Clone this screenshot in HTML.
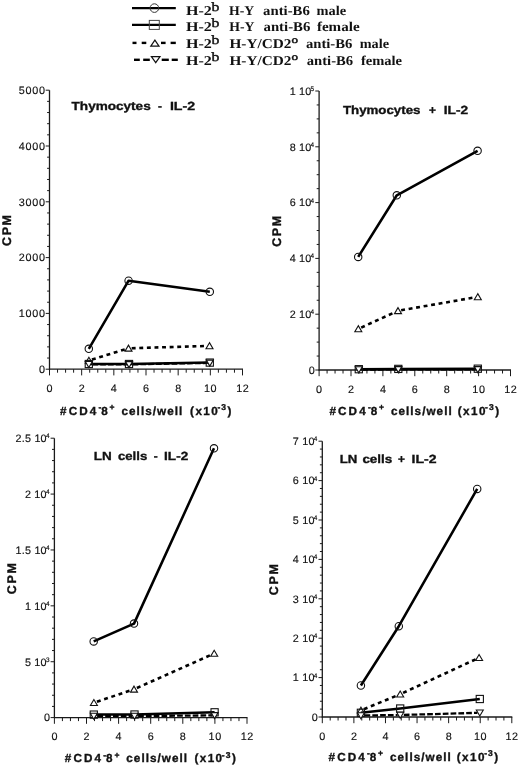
<!DOCTYPE html>
<html><head><meta charset="utf-8"><style>
html,body{margin:0;padding:0;background:#fff;}
svg{display:block;text-rendering:geometricPrecision;will-change:transform;}
text{fill:#111;stroke:#111;stroke-width:0.15px;}
text[font-weight=bold][font-family*=Sans]{stroke:#111;stroke-width:0.35px;}
text[font-family*=Serif]{stroke:none;}
</style></head><body>
<svg width="520" height="768" viewBox="0 0 520 768">
<line x1="49.50" y1="90.20" x2="49.50" y2="369.70" stroke="#1a1a1a" stroke-width="1.3" />
<line x1="49.00" y1="369.20" x2="243.00" y2="369.20" stroke="#1a1a1a" stroke-width="1.3" />
<line x1="49.50" y1="369.20" x2="49.50" y2="375.40" stroke="#1a1a1a" stroke-width="1.0" />
<line x1="57.54" y1="369.20" x2="57.54" y2="372.70" stroke="#1a1a1a" stroke-width="1.0" />
<line x1="65.58" y1="369.20" x2="65.58" y2="372.70" stroke="#1a1a1a" stroke-width="1.0" />
<line x1="73.62" y1="369.20" x2="73.62" y2="372.70" stroke="#1a1a1a" stroke-width="1.0" />
<line x1="81.67" y1="369.20" x2="81.67" y2="375.40" stroke="#1a1a1a" stroke-width="1.0" />
<line x1="89.71" y1="369.20" x2="89.71" y2="372.70" stroke="#1a1a1a" stroke-width="1.0" />
<line x1="97.75" y1="369.20" x2="97.75" y2="372.70" stroke="#1a1a1a" stroke-width="1.0" />
<line x1="105.79" y1="369.20" x2="105.79" y2="372.70" stroke="#1a1a1a" stroke-width="1.0" />
<line x1="113.83" y1="369.20" x2="113.83" y2="375.40" stroke="#1a1a1a" stroke-width="1.0" />
<line x1="121.88" y1="369.20" x2="121.88" y2="372.70" stroke="#1a1a1a" stroke-width="1.0" />
<line x1="129.92" y1="369.20" x2="129.92" y2="372.70" stroke="#1a1a1a" stroke-width="1.0" />
<line x1="137.96" y1="369.20" x2="137.96" y2="372.70" stroke="#1a1a1a" stroke-width="1.0" />
<line x1="146.00" y1="369.20" x2="146.00" y2="375.40" stroke="#1a1a1a" stroke-width="1.0" />
<line x1="154.04" y1="369.20" x2="154.04" y2="372.70" stroke="#1a1a1a" stroke-width="1.0" />
<line x1="162.08" y1="369.20" x2="162.08" y2="372.70" stroke="#1a1a1a" stroke-width="1.0" />
<line x1="170.12" y1="369.20" x2="170.12" y2="372.70" stroke="#1a1a1a" stroke-width="1.0" />
<line x1="178.17" y1="369.20" x2="178.17" y2="375.40" stroke="#1a1a1a" stroke-width="1.0" />
<line x1="186.21" y1="369.20" x2="186.21" y2="372.70" stroke="#1a1a1a" stroke-width="1.0" />
<line x1="194.25" y1="369.20" x2="194.25" y2="372.70" stroke="#1a1a1a" stroke-width="1.0" />
<line x1="202.29" y1="369.20" x2="202.29" y2="372.70" stroke="#1a1a1a" stroke-width="1.0" />
<line x1="210.33" y1="369.20" x2="210.33" y2="375.40" stroke="#1a1a1a" stroke-width="1.0" />
<line x1="218.38" y1="369.20" x2="218.38" y2="372.70" stroke="#1a1a1a" stroke-width="1.0" />
<line x1="226.42" y1="369.20" x2="226.42" y2="372.70" stroke="#1a1a1a" stroke-width="1.0" />
<line x1="234.46" y1="369.20" x2="234.46" y2="372.70" stroke="#1a1a1a" stroke-width="1.0" />
<line x1="242.50" y1="369.20" x2="242.50" y2="375.40" stroke="#1a1a1a" stroke-width="1.0" />
<text x="49.80" y="392.00" font-family='"Liberation Sans", sans-serif' font-size="10.8" font-weight="normal" text-anchor="middle" letter-spacing="0.6">0</text>
<text x="81.97" y="392.00" font-family='"Liberation Sans", sans-serif' font-size="10.8" font-weight="normal" text-anchor="middle" letter-spacing="0.6">2</text>
<text x="114.13" y="392.00" font-family='"Liberation Sans", sans-serif' font-size="10.8" font-weight="normal" text-anchor="middle" letter-spacing="0.6">4</text>
<text x="146.30" y="392.00" font-family='"Liberation Sans", sans-serif' font-size="10.8" font-weight="normal" text-anchor="middle" letter-spacing="0.6">6</text>
<text x="178.47" y="392.00" font-family='"Liberation Sans", sans-serif' font-size="10.8" font-weight="normal" text-anchor="middle" letter-spacing="0.6">8</text>
<text x="210.63" y="392.00" font-family='"Liberation Sans", sans-serif' font-size="10.8" font-weight="normal" text-anchor="middle" letter-spacing="0.6">10</text>
<text x="242.80" y="392.00" font-family='"Liberation Sans", sans-serif' font-size="10.8" font-weight="normal" text-anchor="middle" letter-spacing="0.6">12</text>
<line x1="45.70" y1="369.20" x2="49.50" y2="369.20" stroke="#1a1a1a" stroke-width="1.0" />
<line x1="47.10" y1="358.04" x2="49.50" y2="358.04" stroke="#1a1a1a" stroke-width="1.0" />
<line x1="47.10" y1="346.88" x2="49.50" y2="346.88" stroke="#1a1a1a" stroke-width="1.0" />
<line x1="47.10" y1="335.72" x2="49.50" y2="335.72" stroke="#1a1a1a" stroke-width="1.0" />
<line x1="47.10" y1="324.56" x2="49.50" y2="324.56" stroke="#1a1a1a" stroke-width="1.0" />
<line x1="45.70" y1="313.40" x2="49.50" y2="313.40" stroke="#1a1a1a" stroke-width="1.0" />
<line x1="47.10" y1="302.24" x2="49.50" y2="302.24" stroke="#1a1a1a" stroke-width="1.0" />
<line x1="47.10" y1="291.08" x2="49.50" y2="291.08" stroke="#1a1a1a" stroke-width="1.0" />
<line x1="47.10" y1="279.92" x2="49.50" y2="279.92" stroke="#1a1a1a" stroke-width="1.0" />
<line x1="47.10" y1="268.76" x2="49.50" y2="268.76" stroke="#1a1a1a" stroke-width="1.0" />
<line x1="45.70" y1="257.60" x2="49.50" y2="257.60" stroke="#1a1a1a" stroke-width="1.0" />
<line x1="47.10" y1="246.44" x2="49.50" y2="246.44" stroke="#1a1a1a" stroke-width="1.0" />
<line x1="47.10" y1="235.28" x2="49.50" y2="235.28" stroke="#1a1a1a" stroke-width="1.0" />
<line x1="47.10" y1="224.12" x2="49.50" y2="224.12" stroke="#1a1a1a" stroke-width="1.0" />
<line x1="47.10" y1="212.96" x2="49.50" y2="212.96" stroke="#1a1a1a" stroke-width="1.0" />
<line x1="45.70" y1="201.80" x2="49.50" y2="201.80" stroke="#1a1a1a" stroke-width="1.0" />
<line x1="47.10" y1="190.64" x2="49.50" y2="190.64" stroke="#1a1a1a" stroke-width="1.0" />
<line x1="47.10" y1="179.48" x2="49.50" y2="179.48" stroke="#1a1a1a" stroke-width="1.0" />
<line x1="47.10" y1="168.32" x2="49.50" y2="168.32" stroke="#1a1a1a" stroke-width="1.0" />
<line x1="47.10" y1="157.16" x2="49.50" y2="157.16" stroke="#1a1a1a" stroke-width="1.0" />
<line x1="45.70" y1="146.00" x2="49.50" y2="146.00" stroke="#1a1a1a" stroke-width="1.0" />
<line x1="47.10" y1="134.84" x2="49.50" y2="134.84" stroke="#1a1a1a" stroke-width="1.0" />
<line x1="47.10" y1="123.68" x2="49.50" y2="123.68" stroke="#1a1a1a" stroke-width="1.0" />
<line x1="47.10" y1="112.52" x2="49.50" y2="112.52" stroke="#1a1a1a" stroke-width="1.0" />
<line x1="47.10" y1="101.36" x2="49.50" y2="101.36" stroke="#1a1a1a" stroke-width="1.0" />
<line x1="45.70" y1="90.20" x2="49.50" y2="90.20" stroke="#1a1a1a" stroke-width="1.0" />
<text x="45.80" y="372.90" font-family='"Liberation Sans", sans-serif' font-size="10.8" font-weight="normal" text-anchor="end" letter-spacing="0.75">0</text>
<text x="45.80" y="317.10" font-family='"Liberation Sans", sans-serif' font-size="10.8" font-weight="normal" text-anchor="end" letter-spacing="0.75">1000</text>
<text x="45.80" y="261.30" font-family='"Liberation Sans", sans-serif' font-size="10.8" font-weight="normal" text-anchor="end" letter-spacing="0.75">2000</text>
<text x="45.80" y="205.50" font-family='"Liberation Sans", sans-serif' font-size="10.8" font-weight="normal" text-anchor="end" letter-spacing="0.75">3000</text>
<text x="45.80" y="149.70" font-family='"Liberation Sans", sans-serif' font-size="10.8" font-weight="normal" text-anchor="end" letter-spacing="0.75">4000</text>
<text x="45.80" y="93.90" font-family='"Liberation Sans", sans-serif' font-size="10.8" font-weight="normal" text-anchor="end" letter-spacing="0.75">5000</text>
<text transform="translate(10.80,229.70) rotate(-90)" font-family='"Liberation Sans", sans-serif' font-size="12.5" font-weight="bold" text-anchor="middle" letter-spacing="1.6">CPM</text>
<line x1="319.10" y1="91.00" x2="319.10" y2="370.50" stroke="#1a1a1a" stroke-width="1.3" />
<line x1="318.60" y1="370.00" x2="511.00" y2="370.00" stroke="#1a1a1a" stroke-width="1.3" />
<line x1="319.10" y1="370.00" x2="319.10" y2="376.20" stroke="#1a1a1a" stroke-width="1.0" />
<line x1="327.08" y1="370.00" x2="327.08" y2="373.50" stroke="#1a1a1a" stroke-width="1.0" />
<line x1="335.05" y1="370.00" x2="335.05" y2="373.50" stroke="#1a1a1a" stroke-width="1.0" />
<line x1="343.03" y1="370.00" x2="343.03" y2="373.50" stroke="#1a1a1a" stroke-width="1.0" />
<line x1="351.00" y1="370.00" x2="351.00" y2="376.20" stroke="#1a1a1a" stroke-width="1.0" />
<line x1="358.98" y1="370.00" x2="358.98" y2="373.50" stroke="#1a1a1a" stroke-width="1.0" />
<line x1="366.95" y1="370.00" x2="366.95" y2="373.50" stroke="#1a1a1a" stroke-width="1.0" />
<line x1="374.93" y1="370.00" x2="374.93" y2="373.50" stroke="#1a1a1a" stroke-width="1.0" />
<line x1="382.90" y1="370.00" x2="382.90" y2="376.20" stroke="#1a1a1a" stroke-width="1.0" />
<line x1="390.88" y1="370.00" x2="390.88" y2="373.50" stroke="#1a1a1a" stroke-width="1.0" />
<line x1="398.85" y1="370.00" x2="398.85" y2="373.50" stroke="#1a1a1a" stroke-width="1.0" />
<line x1="406.82" y1="370.00" x2="406.82" y2="373.50" stroke="#1a1a1a" stroke-width="1.0" />
<line x1="414.80" y1="370.00" x2="414.80" y2="376.20" stroke="#1a1a1a" stroke-width="1.0" />
<line x1="422.77" y1="370.00" x2="422.77" y2="373.50" stroke="#1a1a1a" stroke-width="1.0" />
<line x1="430.75" y1="370.00" x2="430.75" y2="373.50" stroke="#1a1a1a" stroke-width="1.0" />
<line x1="438.73" y1="370.00" x2="438.73" y2="373.50" stroke="#1a1a1a" stroke-width="1.0" />
<line x1="446.70" y1="370.00" x2="446.70" y2="376.20" stroke="#1a1a1a" stroke-width="1.0" />
<line x1="454.68" y1="370.00" x2="454.68" y2="373.50" stroke="#1a1a1a" stroke-width="1.0" />
<line x1="462.65" y1="370.00" x2="462.65" y2="373.50" stroke="#1a1a1a" stroke-width="1.0" />
<line x1="470.62" y1="370.00" x2="470.62" y2="373.50" stroke="#1a1a1a" stroke-width="1.0" />
<line x1="478.60" y1="370.00" x2="478.60" y2="376.20" stroke="#1a1a1a" stroke-width="1.0" />
<line x1="486.57" y1="370.00" x2="486.57" y2="373.50" stroke="#1a1a1a" stroke-width="1.0" />
<line x1="494.55" y1="370.00" x2="494.55" y2="373.50" stroke="#1a1a1a" stroke-width="1.0" />
<line x1="502.52" y1="370.00" x2="502.52" y2="373.50" stroke="#1a1a1a" stroke-width="1.0" />
<line x1="510.50" y1="370.00" x2="510.50" y2="376.20" stroke="#1a1a1a" stroke-width="1.0" />
<text x="319.40" y="392.80" font-family='"Liberation Sans", sans-serif' font-size="10.8" font-weight="normal" text-anchor="middle" letter-spacing="0.6">0</text>
<text x="351.30" y="392.80" font-family='"Liberation Sans", sans-serif' font-size="10.8" font-weight="normal" text-anchor="middle" letter-spacing="0.6">2</text>
<text x="383.20" y="392.80" font-family='"Liberation Sans", sans-serif' font-size="10.8" font-weight="normal" text-anchor="middle" letter-spacing="0.6">4</text>
<text x="415.10" y="392.80" font-family='"Liberation Sans", sans-serif' font-size="10.8" font-weight="normal" text-anchor="middle" letter-spacing="0.6">6</text>
<text x="447.00" y="392.80" font-family='"Liberation Sans", sans-serif' font-size="10.8" font-weight="normal" text-anchor="middle" letter-spacing="0.6">8</text>
<text x="478.90" y="392.80" font-family='"Liberation Sans", sans-serif' font-size="10.8" font-weight="normal" text-anchor="middle" letter-spacing="0.6">10</text>
<text x="510.80" y="392.80" font-family='"Liberation Sans", sans-serif' font-size="10.8" font-weight="normal" text-anchor="middle" letter-spacing="0.6">12</text>
<line x1="315.30" y1="370.00" x2="319.10" y2="370.00" stroke="#1a1a1a" stroke-width="1.0" />
<line x1="316.70" y1="356.05" x2="319.10" y2="356.05" stroke="#1a1a1a" stroke-width="1.0" />
<line x1="316.70" y1="342.10" x2="319.10" y2="342.10" stroke="#1a1a1a" stroke-width="1.0" />
<line x1="316.70" y1="328.15" x2="319.10" y2="328.15" stroke="#1a1a1a" stroke-width="1.0" />
<line x1="315.30" y1="314.20" x2="319.10" y2="314.20" stroke="#1a1a1a" stroke-width="1.0" />
<line x1="316.70" y1="300.25" x2="319.10" y2="300.25" stroke="#1a1a1a" stroke-width="1.0" />
<line x1="316.70" y1="286.30" x2="319.10" y2="286.30" stroke="#1a1a1a" stroke-width="1.0" />
<line x1="316.70" y1="272.35" x2="319.10" y2="272.35" stroke="#1a1a1a" stroke-width="1.0" />
<line x1="315.30" y1="258.40" x2="319.10" y2="258.40" stroke="#1a1a1a" stroke-width="1.0" />
<line x1="316.70" y1="244.45" x2="319.10" y2="244.45" stroke="#1a1a1a" stroke-width="1.0" />
<line x1="316.70" y1="230.50" x2="319.10" y2="230.50" stroke="#1a1a1a" stroke-width="1.0" />
<line x1="316.70" y1="216.55" x2="319.10" y2="216.55" stroke="#1a1a1a" stroke-width="1.0" />
<line x1="315.30" y1="202.60" x2="319.10" y2="202.60" stroke="#1a1a1a" stroke-width="1.0" />
<line x1="316.70" y1="188.65" x2="319.10" y2="188.65" stroke="#1a1a1a" stroke-width="1.0" />
<line x1="316.70" y1="174.70" x2="319.10" y2="174.70" stroke="#1a1a1a" stroke-width="1.0" />
<line x1="316.70" y1="160.75" x2="319.10" y2="160.75" stroke="#1a1a1a" stroke-width="1.0" />
<line x1="315.30" y1="146.80" x2="319.10" y2="146.80" stroke="#1a1a1a" stroke-width="1.0" />
<line x1="316.70" y1="132.85" x2="319.10" y2="132.85" stroke="#1a1a1a" stroke-width="1.0" />
<line x1="316.70" y1="118.90" x2="319.10" y2="118.90" stroke="#1a1a1a" stroke-width="1.0" />
<line x1="316.70" y1="104.95" x2="319.10" y2="104.95" stroke="#1a1a1a" stroke-width="1.0" />
<line x1="315.30" y1="91.00" x2="319.10" y2="91.00" stroke="#1a1a1a" stroke-width="1.0" />
<text x="315.40" y="373.70" font-family='"Liberation Sans", sans-serif' font-size="10.8" font-weight="normal" text-anchor="end" letter-spacing="0.75">0</text>
<text x="311.50" y="318.00" font-family='"Liberation Sans", sans-serif' font-size="10.8" text-anchor="end" letter-spacing="0.2">2 10</text>
<text x="310.60" y="314.10" font-family='"Liberation Sans", sans-serif' font-size="6.4">4</text>
<text x="311.50" y="262.20" font-family='"Liberation Sans", sans-serif' font-size="10.8" text-anchor="end" letter-spacing="0.2">4 10</text>
<text x="310.60" y="258.30" font-family='"Liberation Sans", sans-serif' font-size="6.4">4</text>
<text x="311.50" y="206.40" font-family='"Liberation Sans", sans-serif' font-size="10.8" text-anchor="end" letter-spacing="0.2">6 10</text>
<text x="310.60" y="202.50" font-family='"Liberation Sans", sans-serif' font-size="6.4">4</text>
<text x="311.50" y="150.60" font-family='"Liberation Sans", sans-serif' font-size="10.8" text-anchor="end" letter-spacing="0.2">8 10</text>
<text x="310.60" y="146.70" font-family='"Liberation Sans", sans-serif' font-size="6.4">4</text>
<text x="311.50" y="94.80" font-family='"Liberation Sans", sans-serif' font-size="10.8" text-anchor="end" letter-spacing="0.2">1 10</text>
<text x="310.60" y="90.90" font-family='"Liberation Sans", sans-serif' font-size="6.4">5</text>
<text transform="translate(280.50,230.50) rotate(-90)" font-family='"Liberation Sans", sans-serif' font-size="12.5" font-weight="bold" text-anchor="middle" letter-spacing="1.6">CPM</text>
<line x1="54.40" y1="438.20" x2="54.40" y2="718.10" stroke="#1a1a1a" stroke-width="1.3" />
<line x1="53.90" y1="717.60" x2="247.50" y2="717.60" stroke="#1a1a1a" stroke-width="1.3" />
<line x1="54.40" y1="717.60" x2="54.40" y2="723.80" stroke="#1a1a1a" stroke-width="1.0" />
<line x1="62.42" y1="717.60" x2="62.42" y2="721.10" stroke="#1a1a1a" stroke-width="1.0" />
<line x1="70.45" y1="717.60" x2="70.45" y2="721.10" stroke="#1a1a1a" stroke-width="1.0" />
<line x1="78.47" y1="717.60" x2="78.47" y2="721.10" stroke="#1a1a1a" stroke-width="1.0" />
<line x1="86.50" y1="717.60" x2="86.50" y2="723.80" stroke="#1a1a1a" stroke-width="1.0" />
<line x1="94.53" y1="717.60" x2="94.53" y2="721.10" stroke="#1a1a1a" stroke-width="1.0" />
<line x1="102.55" y1="717.60" x2="102.55" y2="721.10" stroke="#1a1a1a" stroke-width="1.0" />
<line x1="110.58" y1="717.60" x2="110.58" y2="721.10" stroke="#1a1a1a" stroke-width="1.0" />
<line x1="118.60" y1="717.60" x2="118.60" y2="723.80" stroke="#1a1a1a" stroke-width="1.0" />
<line x1="126.62" y1="717.60" x2="126.62" y2="721.10" stroke="#1a1a1a" stroke-width="1.0" />
<line x1="134.65" y1="717.60" x2="134.65" y2="721.10" stroke="#1a1a1a" stroke-width="1.0" />
<line x1="142.68" y1="717.60" x2="142.68" y2="721.10" stroke="#1a1a1a" stroke-width="1.0" />
<line x1="150.70" y1="717.60" x2="150.70" y2="723.80" stroke="#1a1a1a" stroke-width="1.0" />
<line x1="158.72" y1="717.60" x2="158.72" y2="721.10" stroke="#1a1a1a" stroke-width="1.0" />
<line x1="166.75" y1="717.60" x2="166.75" y2="721.10" stroke="#1a1a1a" stroke-width="1.0" />
<line x1="174.78" y1="717.60" x2="174.78" y2="721.10" stroke="#1a1a1a" stroke-width="1.0" />
<line x1="182.80" y1="717.60" x2="182.80" y2="723.80" stroke="#1a1a1a" stroke-width="1.0" />
<line x1="190.83" y1="717.60" x2="190.83" y2="721.10" stroke="#1a1a1a" stroke-width="1.0" />
<line x1="198.85" y1="717.60" x2="198.85" y2="721.10" stroke="#1a1a1a" stroke-width="1.0" />
<line x1="206.88" y1="717.60" x2="206.88" y2="721.10" stroke="#1a1a1a" stroke-width="1.0" />
<line x1="214.90" y1="717.60" x2="214.90" y2="723.80" stroke="#1a1a1a" stroke-width="1.0" />
<line x1="222.93" y1="717.60" x2="222.93" y2="721.10" stroke="#1a1a1a" stroke-width="1.0" />
<line x1="230.95" y1="717.60" x2="230.95" y2="721.10" stroke="#1a1a1a" stroke-width="1.0" />
<line x1="238.98" y1="717.60" x2="238.98" y2="721.10" stroke="#1a1a1a" stroke-width="1.0" />
<line x1="247.00" y1="717.60" x2="247.00" y2="723.80" stroke="#1a1a1a" stroke-width="1.0" />
<text x="54.70" y="740.40" font-family='"Liberation Sans", sans-serif' font-size="10.8" font-weight="normal" text-anchor="middle" letter-spacing="0.6">0</text>
<text x="86.80" y="740.40" font-family='"Liberation Sans", sans-serif' font-size="10.8" font-weight="normal" text-anchor="middle" letter-spacing="0.6">2</text>
<text x="118.90" y="740.40" font-family='"Liberation Sans", sans-serif' font-size="10.8" font-weight="normal" text-anchor="middle" letter-spacing="0.6">4</text>
<text x="151.00" y="740.40" font-family='"Liberation Sans", sans-serif' font-size="10.8" font-weight="normal" text-anchor="middle" letter-spacing="0.6">6</text>
<text x="183.10" y="740.40" font-family='"Liberation Sans", sans-serif' font-size="10.8" font-weight="normal" text-anchor="middle" letter-spacing="0.6">8</text>
<text x="215.20" y="740.40" font-family='"Liberation Sans", sans-serif' font-size="10.8" font-weight="normal" text-anchor="middle" letter-spacing="0.6">10</text>
<text x="247.30" y="740.40" font-family='"Liberation Sans", sans-serif' font-size="10.8" font-weight="normal" text-anchor="middle" letter-spacing="0.6">12</text>
<line x1="50.60" y1="717.60" x2="54.40" y2="717.60" stroke="#1a1a1a" stroke-width="1.0" />
<line x1="52.00" y1="706.42" x2="54.40" y2="706.42" stroke="#1a1a1a" stroke-width="1.0" />
<line x1="52.00" y1="695.25" x2="54.40" y2="695.25" stroke="#1a1a1a" stroke-width="1.0" />
<line x1="52.00" y1="684.07" x2="54.40" y2="684.07" stroke="#1a1a1a" stroke-width="1.0" />
<line x1="52.00" y1="672.90" x2="54.40" y2="672.90" stroke="#1a1a1a" stroke-width="1.0" />
<line x1="50.60" y1="661.72" x2="54.40" y2="661.72" stroke="#1a1a1a" stroke-width="1.0" />
<line x1="52.00" y1="650.54" x2="54.40" y2="650.54" stroke="#1a1a1a" stroke-width="1.0" />
<line x1="52.00" y1="639.37" x2="54.40" y2="639.37" stroke="#1a1a1a" stroke-width="1.0" />
<line x1="52.00" y1="628.19" x2="54.40" y2="628.19" stroke="#1a1a1a" stroke-width="1.0" />
<line x1="52.00" y1="617.02" x2="54.40" y2="617.02" stroke="#1a1a1a" stroke-width="1.0" />
<line x1="50.60" y1="605.84" x2="54.40" y2="605.84" stroke="#1a1a1a" stroke-width="1.0" />
<line x1="52.00" y1="594.66" x2="54.40" y2="594.66" stroke="#1a1a1a" stroke-width="1.0" />
<line x1="52.00" y1="583.49" x2="54.40" y2="583.49" stroke="#1a1a1a" stroke-width="1.0" />
<line x1="52.00" y1="572.31" x2="54.40" y2="572.31" stroke="#1a1a1a" stroke-width="1.0" />
<line x1="52.00" y1="561.14" x2="54.40" y2="561.14" stroke="#1a1a1a" stroke-width="1.0" />
<line x1="50.60" y1="549.96" x2="54.40" y2="549.96" stroke="#1a1a1a" stroke-width="1.0" />
<line x1="52.00" y1="538.78" x2="54.40" y2="538.78" stroke="#1a1a1a" stroke-width="1.0" />
<line x1="52.00" y1="527.61" x2="54.40" y2="527.61" stroke="#1a1a1a" stroke-width="1.0" />
<line x1="52.00" y1="516.43" x2="54.40" y2="516.43" stroke="#1a1a1a" stroke-width="1.0" />
<line x1="52.00" y1="505.26" x2="54.40" y2="505.26" stroke="#1a1a1a" stroke-width="1.0" />
<line x1="50.60" y1="494.08" x2="54.40" y2="494.08" stroke="#1a1a1a" stroke-width="1.0" />
<line x1="52.00" y1="482.90" x2="54.40" y2="482.90" stroke="#1a1a1a" stroke-width="1.0" />
<line x1="52.00" y1="471.73" x2="54.40" y2="471.73" stroke="#1a1a1a" stroke-width="1.0" />
<line x1="52.00" y1="460.55" x2="54.40" y2="460.55" stroke="#1a1a1a" stroke-width="1.0" />
<line x1="52.00" y1="449.38" x2="54.40" y2="449.38" stroke="#1a1a1a" stroke-width="1.0" />
<line x1="50.60" y1="438.20" x2="54.40" y2="438.20" stroke="#1a1a1a" stroke-width="1.0" />
<text x="50.70" y="721.30" font-family='"Liberation Sans", sans-serif' font-size="10.8" font-weight="normal" text-anchor="end" letter-spacing="0.75">0</text>
<text x="46.80" y="665.52" font-family='"Liberation Sans", sans-serif' font-size="10.8" text-anchor="end" letter-spacing="0.2">5 10</text>
<text x="45.90" y="661.62" font-family='"Liberation Sans", sans-serif' font-size="6.4">3</text>
<text x="46.80" y="609.64" font-family='"Liberation Sans", sans-serif' font-size="10.8" text-anchor="end" letter-spacing="0.2">1 10</text>
<text x="45.90" y="605.74" font-family='"Liberation Sans", sans-serif' font-size="6.4">4</text>
<text x="46.80" y="553.76" font-family='"Liberation Sans", sans-serif' font-size="10.8" text-anchor="end" letter-spacing="0.2">1.5 10</text>
<text x="45.90" y="549.86" font-family='"Liberation Sans", sans-serif' font-size="6.4">4</text>
<text x="46.80" y="497.88" font-family='"Liberation Sans", sans-serif' font-size="10.8" text-anchor="end" letter-spacing="0.2">2 10</text>
<text x="45.90" y="493.98" font-family='"Liberation Sans", sans-serif' font-size="6.4">4</text>
<text x="46.80" y="442.00" font-family='"Liberation Sans", sans-serif' font-size="10.8" text-anchor="end" letter-spacing="0.2">2.5 10</text>
<text x="45.90" y="438.10" font-family='"Liberation Sans", sans-serif' font-size="6.4">4</text>
<text transform="translate(15.80,577.90) rotate(-90)" font-family='"Liberation Sans", sans-serif' font-size="12.5" font-weight="bold" text-anchor="middle" letter-spacing="1.6">CPM</text>
<line x1="322.30" y1="441.20" x2="322.30" y2="717.50" stroke="#1a1a1a" stroke-width="1.3" />
<line x1="321.80" y1="717.00" x2="512.30" y2="717.00" stroke="#1a1a1a" stroke-width="1.3" />
<line x1="322.30" y1="717.00" x2="322.30" y2="723.20" stroke="#1a1a1a" stroke-width="1.0" />
<line x1="330.20" y1="717.00" x2="330.20" y2="720.50" stroke="#1a1a1a" stroke-width="1.0" />
<line x1="338.09" y1="717.00" x2="338.09" y2="720.50" stroke="#1a1a1a" stroke-width="1.0" />
<line x1="345.99" y1="717.00" x2="345.99" y2="720.50" stroke="#1a1a1a" stroke-width="1.0" />
<line x1="353.88" y1="717.00" x2="353.88" y2="723.20" stroke="#1a1a1a" stroke-width="1.0" />
<line x1="361.78" y1="717.00" x2="361.78" y2="720.50" stroke="#1a1a1a" stroke-width="1.0" />
<line x1="369.68" y1="717.00" x2="369.68" y2="720.50" stroke="#1a1a1a" stroke-width="1.0" />
<line x1="377.57" y1="717.00" x2="377.57" y2="720.50" stroke="#1a1a1a" stroke-width="1.0" />
<line x1="385.47" y1="717.00" x2="385.47" y2="723.20" stroke="#1a1a1a" stroke-width="1.0" />
<line x1="393.36" y1="717.00" x2="393.36" y2="720.50" stroke="#1a1a1a" stroke-width="1.0" />
<line x1="401.26" y1="717.00" x2="401.26" y2="720.50" stroke="#1a1a1a" stroke-width="1.0" />
<line x1="409.15" y1="717.00" x2="409.15" y2="720.50" stroke="#1a1a1a" stroke-width="1.0" />
<line x1="417.05" y1="717.00" x2="417.05" y2="723.20" stroke="#1a1a1a" stroke-width="1.0" />
<line x1="424.95" y1="717.00" x2="424.95" y2="720.50" stroke="#1a1a1a" stroke-width="1.0" />
<line x1="432.84" y1="717.00" x2="432.84" y2="720.50" stroke="#1a1a1a" stroke-width="1.0" />
<line x1="440.74" y1="717.00" x2="440.74" y2="720.50" stroke="#1a1a1a" stroke-width="1.0" />
<line x1="448.63" y1="717.00" x2="448.63" y2="723.20" stroke="#1a1a1a" stroke-width="1.0" />
<line x1="456.53" y1="717.00" x2="456.53" y2="720.50" stroke="#1a1a1a" stroke-width="1.0" />
<line x1="464.43" y1="717.00" x2="464.43" y2="720.50" stroke="#1a1a1a" stroke-width="1.0" />
<line x1="472.32" y1="717.00" x2="472.32" y2="720.50" stroke="#1a1a1a" stroke-width="1.0" />
<line x1="480.22" y1="717.00" x2="480.22" y2="723.20" stroke="#1a1a1a" stroke-width="1.0" />
<line x1="488.11" y1="717.00" x2="488.11" y2="720.50" stroke="#1a1a1a" stroke-width="1.0" />
<line x1="496.01" y1="717.00" x2="496.01" y2="720.50" stroke="#1a1a1a" stroke-width="1.0" />
<line x1="503.90" y1="717.00" x2="503.90" y2="720.50" stroke="#1a1a1a" stroke-width="1.0" />
<line x1="511.80" y1="717.00" x2="511.80" y2="723.20" stroke="#1a1a1a" stroke-width="1.0" />
<text x="322.60" y="739.80" font-family='"Liberation Sans", sans-serif' font-size="10.8" font-weight="normal" text-anchor="middle" letter-spacing="0.6">0</text>
<text x="354.18" y="739.80" font-family='"Liberation Sans", sans-serif' font-size="10.8" font-weight="normal" text-anchor="middle" letter-spacing="0.6">2</text>
<text x="385.77" y="739.80" font-family='"Liberation Sans", sans-serif' font-size="10.8" font-weight="normal" text-anchor="middle" letter-spacing="0.6">4</text>
<text x="417.35" y="739.80" font-family='"Liberation Sans", sans-serif' font-size="10.8" font-weight="normal" text-anchor="middle" letter-spacing="0.6">6</text>
<text x="448.93" y="739.80" font-family='"Liberation Sans", sans-serif' font-size="10.8" font-weight="normal" text-anchor="middle" letter-spacing="0.6">8</text>
<text x="480.52" y="739.80" font-family='"Liberation Sans", sans-serif' font-size="10.8" font-weight="normal" text-anchor="middle" letter-spacing="0.6">10</text>
<text x="512.10" y="739.80" font-family='"Liberation Sans", sans-serif' font-size="10.8" font-weight="normal" text-anchor="middle" letter-spacing="0.6">12</text>
<line x1="318.50" y1="717.00" x2="322.30" y2="717.00" stroke="#1a1a1a" stroke-width="1.0" />
<line x1="319.90" y1="709.12" x2="322.30" y2="709.12" stroke="#1a1a1a" stroke-width="1.0" />
<line x1="319.90" y1="701.24" x2="322.30" y2="701.24" stroke="#1a1a1a" stroke-width="1.0" />
<line x1="319.90" y1="693.36" x2="322.30" y2="693.36" stroke="#1a1a1a" stroke-width="1.0" />
<line x1="319.90" y1="685.48" x2="322.30" y2="685.48" stroke="#1a1a1a" stroke-width="1.0" />
<line x1="318.50" y1="677.60" x2="322.30" y2="677.60" stroke="#1a1a1a" stroke-width="1.0" />
<line x1="319.90" y1="669.72" x2="322.30" y2="669.72" stroke="#1a1a1a" stroke-width="1.0" />
<line x1="319.90" y1="661.84" x2="322.30" y2="661.84" stroke="#1a1a1a" stroke-width="1.0" />
<line x1="319.90" y1="653.96" x2="322.30" y2="653.96" stroke="#1a1a1a" stroke-width="1.0" />
<line x1="319.90" y1="646.08" x2="322.30" y2="646.08" stroke="#1a1a1a" stroke-width="1.0" />
<line x1="318.50" y1="638.20" x2="322.30" y2="638.20" stroke="#1a1a1a" stroke-width="1.0" />
<line x1="319.90" y1="630.32" x2="322.30" y2="630.32" stroke="#1a1a1a" stroke-width="1.0" />
<line x1="319.90" y1="622.44" x2="322.30" y2="622.44" stroke="#1a1a1a" stroke-width="1.0" />
<line x1="319.90" y1="614.56" x2="322.30" y2="614.56" stroke="#1a1a1a" stroke-width="1.0" />
<line x1="319.90" y1="606.68" x2="322.30" y2="606.68" stroke="#1a1a1a" stroke-width="1.0" />
<line x1="318.50" y1="598.80" x2="322.30" y2="598.80" stroke="#1a1a1a" stroke-width="1.0" />
<line x1="319.90" y1="590.92" x2="322.30" y2="590.92" stroke="#1a1a1a" stroke-width="1.0" />
<line x1="319.90" y1="583.04" x2="322.30" y2="583.04" stroke="#1a1a1a" stroke-width="1.0" />
<line x1="319.90" y1="575.16" x2="322.30" y2="575.16" stroke="#1a1a1a" stroke-width="1.0" />
<line x1="319.90" y1="567.28" x2="322.30" y2="567.28" stroke="#1a1a1a" stroke-width="1.0" />
<line x1="318.50" y1="559.40" x2="322.30" y2="559.40" stroke="#1a1a1a" stroke-width="1.0" />
<line x1="319.90" y1="551.52" x2="322.30" y2="551.52" stroke="#1a1a1a" stroke-width="1.0" />
<line x1="319.90" y1="543.64" x2="322.30" y2="543.64" stroke="#1a1a1a" stroke-width="1.0" />
<line x1="319.90" y1="535.76" x2="322.30" y2="535.76" stroke="#1a1a1a" stroke-width="1.0" />
<line x1="319.90" y1="527.88" x2="322.30" y2="527.88" stroke="#1a1a1a" stroke-width="1.0" />
<line x1="318.50" y1="520.00" x2="322.30" y2="520.00" stroke="#1a1a1a" stroke-width="1.0" />
<line x1="319.90" y1="512.12" x2="322.30" y2="512.12" stroke="#1a1a1a" stroke-width="1.0" />
<line x1="319.90" y1="504.24" x2="322.30" y2="504.24" stroke="#1a1a1a" stroke-width="1.0" />
<line x1="319.90" y1="496.36" x2="322.30" y2="496.36" stroke="#1a1a1a" stroke-width="1.0" />
<line x1="319.90" y1="488.48" x2="322.30" y2="488.48" stroke="#1a1a1a" stroke-width="1.0" />
<line x1="318.50" y1="480.60" x2="322.30" y2="480.60" stroke="#1a1a1a" stroke-width="1.0" />
<line x1="319.90" y1="472.72" x2="322.30" y2="472.72" stroke="#1a1a1a" stroke-width="1.0" />
<line x1="319.90" y1="464.84" x2="322.30" y2="464.84" stroke="#1a1a1a" stroke-width="1.0" />
<line x1="319.90" y1="456.96" x2="322.30" y2="456.96" stroke="#1a1a1a" stroke-width="1.0" />
<line x1="319.90" y1="449.08" x2="322.30" y2="449.08" stroke="#1a1a1a" stroke-width="1.0" />
<line x1="318.50" y1="441.20" x2="322.30" y2="441.20" stroke="#1a1a1a" stroke-width="1.0" />
<text x="318.60" y="720.70" font-family='"Liberation Sans", sans-serif' font-size="10.8" font-weight="normal" text-anchor="end" letter-spacing="0.75">0</text>
<text x="314.70" y="681.40" font-family='"Liberation Sans", sans-serif' font-size="10.8" text-anchor="end" letter-spacing="0.2">1 10</text>
<text x="313.80" y="677.50" font-family='"Liberation Sans", sans-serif' font-size="6.4">4</text>
<text x="314.70" y="642.00" font-family='"Liberation Sans", sans-serif' font-size="10.8" text-anchor="end" letter-spacing="0.2">2 10</text>
<text x="313.80" y="638.10" font-family='"Liberation Sans", sans-serif' font-size="6.4">4</text>
<text x="314.70" y="602.60" font-family='"Liberation Sans", sans-serif' font-size="10.8" text-anchor="end" letter-spacing="0.2">3 10</text>
<text x="313.80" y="598.70" font-family='"Liberation Sans", sans-serif' font-size="6.4">4</text>
<text x="314.70" y="563.20" font-family='"Liberation Sans", sans-serif' font-size="10.8" text-anchor="end" letter-spacing="0.2">4 10</text>
<text x="313.80" y="559.30" font-family='"Liberation Sans", sans-serif' font-size="6.4">4</text>
<text x="314.70" y="523.80" font-family='"Liberation Sans", sans-serif' font-size="10.8" text-anchor="end" letter-spacing="0.2">5 10</text>
<text x="313.80" y="519.90" font-family='"Liberation Sans", sans-serif' font-size="6.4">4</text>
<text x="314.70" y="484.40" font-family='"Liberation Sans", sans-serif' font-size="10.8" text-anchor="end" letter-spacing="0.2">6 10</text>
<text x="313.80" y="480.50" font-family='"Liberation Sans", sans-serif' font-size="6.4">4</text>
<text x="314.70" y="445.00" font-family='"Liberation Sans", sans-serif' font-size="10.8" text-anchor="end" letter-spacing="0.2">7 10</text>
<text x="313.80" y="441.10" font-family='"Liberation Sans", sans-serif' font-size="6.4">4</text>
<text transform="translate(278.00,578.90) rotate(-90)" font-family='"Liberation Sans", sans-serif' font-size="12.5" font-weight="bold" text-anchor="middle" letter-spacing="1.6">CPM</text>
<text x="71.60" y="109.50" font-family='"Liberation Sans", sans-serif' font-size="11.8" font-weight="bold" textLength="79.10" lengthAdjust="spacingAndGlyphs">Thymocytes</text>
<text x="160.05" y="109.50" font-family='"Liberation Sans", sans-serif' font-size="11.8" font-weight="bold" text-anchor="middle">-</text>
<text x="169.90" y="109.50" font-family='"Liberation Sans", sans-serif' font-size="11.8" font-weight="bold" textLength="25.20" lengthAdjust="spacingAndGlyphs">IL-2</text>
<text x="342.90" y="114.10" font-family='"Liberation Sans", sans-serif' font-size="11.8" font-weight="bold" textLength="77.60" lengthAdjust="spacingAndGlyphs">Thymocytes</text>
<text x="432.35" y="114.10" font-family='"Liberation Sans", sans-serif' font-size="11.8" font-weight="bold" text-anchor="middle">+</text>
<text x="443.80" y="114.10" font-family='"Liberation Sans", sans-serif' font-size="11.8" font-weight="bold" textLength="24.40" lengthAdjust="spacingAndGlyphs">IL-2</text>
<text x="93.70" y="460.30" font-family='"Liberation Sans", sans-serif' font-size="11.8" font-weight="bold" textLength="18.00" lengthAdjust="spacingAndGlyphs">LN</text>
<text x="118.00" y="460.30" font-family='"Liberation Sans", sans-serif' font-size="11.8" font-weight="bold" textLength="29.20" lengthAdjust="spacingAndGlyphs">cells</text>
<text x="155.60" y="460.30" font-family='"Liberation Sans", sans-serif' font-size="11.8" font-weight="bold" text-anchor="middle">-</text>
<text x="164.10" y="460.30" font-family='"Liberation Sans", sans-serif' font-size="11.8" font-weight="bold" textLength="24.10" lengthAdjust="spacingAndGlyphs">IL-2</text>
<text x="339.70" y="462.90" font-family='"Liberation Sans", sans-serif' font-size="11.8" font-weight="bold" textLength="17.60" lengthAdjust="spacingAndGlyphs">LN</text>
<text x="362.40" y="462.90" font-family='"Liberation Sans", sans-serif' font-size="11.8" font-weight="bold" textLength="29.90" lengthAdjust="spacingAndGlyphs">cells</text>
<text x="401.40" y="462.90" font-family='"Liberation Sans", sans-serif' font-size="11.8" font-weight="bold" text-anchor="middle">+</text>
<text x="411.50" y="462.90" font-family='"Liberation Sans", sans-serif' font-size="11.8" font-weight="bold" textLength="25.00" lengthAdjust="spacingAndGlyphs">IL-2</text>
<text x="60.00" y="415.00" font-family='"Liberation Sans", sans-serif' font-size="11.7" font-weight="bold" textLength="36.30" lengthAdjust="spacing">#CD4</text>
<text x="98.50" y="410.40" font-family='"Liberation Sans", sans-serif' font-size="8.5" font-weight="bold" textLength="2.10" lengthAdjust="spacing">-</text>
<text x="101.30" y="415.00" font-family='"Liberation Sans", sans-serif' font-size="11.7" font-weight="bold" textLength="7.40" lengthAdjust="spacing">8</text>
<text x="109.60" y="410.40" font-family='"Liberation Sans", sans-serif' font-size="8.5" font-weight="bold" textLength="5.20" lengthAdjust="spacing">+</text>
<text x="121.50" y="415.00" font-family='"Liberation Sans", sans-serif' font-size="11.7" font-weight="bold" textLength="60.80" lengthAdjust="spacing">cells/well</text>
<text x="190.10" y="415.00" font-family='"Liberation Sans", sans-serif' font-size="11.7" font-weight="bold" textLength="27.70" lengthAdjust="spacing">(x10</text>
<text x="217.50" y="410.40" font-family='"Liberation Sans", sans-serif' font-size="8.5" font-weight="bold" textLength="8.60" lengthAdjust="spacing">-3</text>
<text x="227.60" y="415.00" font-family='"Liberation Sans", sans-serif' font-size="11.7" font-weight="bold" textLength="4.40" lengthAdjust="spacing">)</text>
<text x="329.40" y="415.00" font-family='"Liberation Sans", sans-serif' font-size="11.7" font-weight="bold" textLength="36.30" lengthAdjust="spacing">#CD4</text>
<text x="367.90" y="410.40" font-family='"Liberation Sans", sans-serif' font-size="8.5" font-weight="bold" textLength="2.10" lengthAdjust="spacing">-</text>
<text x="370.70" y="415.00" font-family='"Liberation Sans", sans-serif' font-size="11.7" font-weight="bold" textLength="7.40" lengthAdjust="spacing">8</text>
<text x="379.00" y="410.40" font-family='"Liberation Sans", sans-serif' font-size="8.5" font-weight="bold" textLength="5.20" lengthAdjust="spacing">+</text>
<text x="390.90" y="415.00" font-family='"Liberation Sans", sans-serif' font-size="11.7" font-weight="bold" textLength="60.80" lengthAdjust="spacing">cells/well</text>
<text x="457.70" y="415.00" font-family='"Liberation Sans", sans-serif' font-size="11.7" font-weight="bold" textLength="27.70" lengthAdjust="spacing">(x10</text>
<text x="485.10" y="410.40" font-family='"Liberation Sans", sans-serif' font-size="8.5" font-weight="bold" textLength="8.60" lengthAdjust="spacing">-3</text>
<text x="495.20" y="415.00" font-family='"Liberation Sans", sans-serif' font-size="11.7" font-weight="bold" textLength="4.40" lengthAdjust="spacing">)</text>
<text x="64.80" y="762.40" font-family='"Liberation Sans", sans-serif' font-size="11.7" font-weight="bold" textLength="36.30" lengthAdjust="spacing">#CD4</text>
<text x="103.30" y="757.80" font-family='"Liberation Sans", sans-serif' font-size="8.5" font-weight="bold" textLength="2.10" lengthAdjust="spacing">-</text>
<text x="106.10" y="762.40" font-family='"Liberation Sans", sans-serif' font-size="11.7" font-weight="bold" textLength="7.40" lengthAdjust="spacing">8</text>
<text x="114.40" y="757.80" font-family='"Liberation Sans", sans-serif' font-size="8.5" font-weight="bold" textLength="5.20" lengthAdjust="spacing">+</text>
<text x="126.30" y="762.40" font-family='"Liberation Sans", sans-serif' font-size="11.7" font-weight="bold" textLength="60.80" lengthAdjust="spacing">cells/well</text>
<text x="194.40" y="762.40" font-family='"Liberation Sans", sans-serif' font-size="11.7" font-weight="bold" textLength="27.70" lengthAdjust="spacing">(x10</text>
<text x="221.80" y="757.80" font-family='"Liberation Sans", sans-serif' font-size="8.5" font-weight="bold" textLength="8.60" lengthAdjust="spacing">-3</text>
<text x="231.90" y="762.40" font-family='"Liberation Sans", sans-serif' font-size="11.7" font-weight="bold" textLength="4.40" lengthAdjust="spacing">)</text>
<text x="328.50" y="760.60" font-family='"Liberation Sans", sans-serif' font-size="11.7" font-weight="bold" textLength="36.30" lengthAdjust="spacing">#CD4</text>
<text x="367.00" y="756.00" font-family='"Liberation Sans", sans-serif' font-size="8.5" font-weight="bold" textLength="2.10" lengthAdjust="spacing">-</text>
<text x="369.80" y="760.60" font-family='"Liberation Sans", sans-serif' font-size="11.7" font-weight="bold" textLength="7.40" lengthAdjust="spacing">8</text>
<text x="378.10" y="756.00" font-family='"Liberation Sans", sans-serif' font-size="8.5" font-weight="bold" textLength="5.20" lengthAdjust="spacing">+</text>
<text x="390.00" y="760.60" font-family='"Liberation Sans", sans-serif' font-size="11.7" font-weight="bold" textLength="60.80" lengthAdjust="spacing">cells/well</text>
<text x="456.80" y="760.60" font-family='"Liberation Sans", sans-serif' font-size="11.7" font-weight="bold" textLength="27.70" lengthAdjust="spacing">(x10</text>
<text x="484.20" y="756.00" font-family='"Liberation Sans", sans-serif' font-size="8.5" font-weight="bold" textLength="8.60" lengthAdjust="spacing">-3</text>
<text x="494.30" y="760.60" font-family='"Liberation Sans", sans-serif' font-size="11.7" font-weight="bold" textLength="4.40" lengthAdjust="spacing">)</text>
<polyline points="88.80,348.80 128.60,280.70 209.80,291.80" fill="none" stroke="#000" stroke-width="2.55" stroke-linejoin="round"/>
<polyline points="88.80,364.00 129.00,364.00 209.80,362.60" fill="none" stroke="#000" stroke-width="2.5" stroke-linejoin="round"/>
<line x1="91.96" y1="359.56" x2="95.69" y2="358.41" stroke="#000" stroke-width="2.6"/>
<line x1="99.22" y1="357.32" x2="102.95" y2="356.17" stroke="#000" stroke-width="2.6"/>
<line x1="106.48" y1="355.08" x2="110.21" y2="353.93" stroke="#000" stroke-width="2.6"/>
<line x1="113.75" y1="352.84" x2="117.47" y2="351.70" stroke="#000" stroke-width="2.6"/>
<line x1="121.01" y1="350.61" x2="124.74" y2="349.46" stroke="#000" stroke-width="2.6"/>
<line x1="131.70" y1="348.21" x2="135.60" y2="348.09" stroke="#000" stroke-width="2.6"/>
<line x1="139.30" y1="347.98" x2="143.19" y2="347.86" stroke="#000" stroke-width="2.6"/>
<line x1="146.89" y1="347.76" x2="150.79" y2="347.64" stroke="#000" stroke-width="2.6"/>
<line x1="154.49" y1="347.53" x2="158.39" y2="347.41" stroke="#000" stroke-width="2.6"/>
<line x1="162.09" y1="347.30" x2="165.98" y2="347.19" stroke="#000" stroke-width="2.6"/>
<line x1="169.68" y1="347.08" x2="173.58" y2="346.96" stroke="#000" stroke-width="2.6"/>
<line x1="177.28" y1="346.85" x2="181.18" y2="346.74" stroke="#000" stroke-width="2.6"/>
<line x1="184.88" y1="346.63" x2="188.77" y2="346.51" stroke="#000" stroke-width="2.6"/>
<line x1="192.47" y1="346.40" x2="196.37" y2="346.29" stroke="#000" stroke-width="2.6"/>
<line x1="200.07" y1="346.18" x2="203.97" y2="346.06" stroke="#000" stroke-width="2.6"/>
<line x1="92.40" y1="364.31" x2="98.10" y2="364.32" stroke="#000" stroke-width="2.3"/>
<line x1="100.20" y1="364.33" x2="105.90" y2="364.34" stroke="#000" stroke-width="2.3"/>
<line x1="108.00" y1="364.35" x2="113.70" y2="364.36" stroke="#000" stroke-width="2.3"/>
<line x1="115.80" y1="364.37" x2="121.50" y2="364.38" stroke="#000" stroke-width="2.3"/>
<line x1="123.60" y1="364.39" x2="126.50" y2="364.39" stroke="#000" stroke-width="2.3"/>
<line x1="132.60" y1="364.33" x2="138.30" y2="364.23" stroke="#000" stroke-width="2.3"/>
<line x1="140.40" y1="364.19" x2="146.10" y2="364.08" stroke="#000" stroke-width="2.3"/>
<line x1="148.20" y1="364.04" x2="153.90" y2="363.94" stroke="#000" stroke-width="2.3"/>
<line x1="156.00" y1="363.90" x2="161.69" y2="363.79" stroke="#000" stroke-width="2.3"/>
<line x1="163.79" y1="363.75" x2="169.49" y2="363.65" stroke="#000" stroke-width="2.3"/>
<line x1="171.59" y1="363.61" x2="177.29" y2="363.50" stroke="#000" stroke-width="2.3"/>
<line x1="179.39" y1="363.46" x2="185.09" y2="363.36" stroke="#000" stroke-width="2.3"/>
<line x1="187.19" y1="363.32" x2="192.89" y2="363.21" stroke="#000" stroke-width="2.3"/>
<line x1="194.99" y1="363.17" x2="200.69" y2="363.07" stroke="#000" stroke-width="2.3"/>
<line x1="202.79" y1="363.03" x2="207.30" y2="362.95" stroke="#000" stroke-width="2.3"/>
<polygon points="88.90,357.30 85.40,363.30 92.40,363.30" fill="none" stroke="#111" stroke-width="1.1" stroke-linejoin="miter"/>
<polygon points="128.50,345.10 125.00,351.10 132.00,351.10" fill="none" stroke="#111" stroke-width="1.1" stroke-linejoin="miter"/>
<polygon points="209.50,342.70 206.00,348.70 213.00,348.70" fill="none" stroke="#111" stroke-width="1.1" stroke-linejoin="miter"/>
<rect x="85.20" y="360.40" width="7.2" height="7.2" fill="none" stroke="#111" stroke-width="1.1"/>
<rect x="125.40" y="360.40" width="7.2" height="7.2" fill="none" stroke="#111" stroke-width="1.1"/>
<rect x="206.20" y="359.00" width="7.2" height="7.2" fill="none" stroke="#111" stroke-width="1.1"/>
<polygon points="88.80,367.50 85.30,361.50 92.30,361.50" fill="#fff" stroke="#111" stroke-width="1.1" stroke-linejoin="miter"/>
<polygon points="129.00,367.60 125.50,361.60 132.50,361.60" fill="#fff" stroke="#111" stroke-width="1.1" stroke-linejoin="miter"/>
<polygon points="209.80,366.10 206.30,360.10 213.30,360.10" fill="#fff" stroke="#111" stroke-width="1.1" stroke-linejoin="miter"/>
<circle cx="88.80" cy="348.80" r="3.7" fill="none" stroke="#111" stroke-width="1.1"/>
<circle cx="128.60" cy="280.70" r="3.7" fill="none" stroke="#111" stroke-width="1.1"/>
<circle cx="209.80" cy="291.80" r="3.7" fill="none" stroke="#111" stroke-width="1.1"/>
<polyline points="358.20,256.90 396.80,195.30 477.60,150.80" fill="none" stroke="#000" stroke-width="2.55" stroke-linejoin="round"/>
<polyline points="358.80,369.20 398.30,368.90 477.80,368.70" fill="none" stroke="#000" stroke-width="2.5" stroke-linejoin="round"/>
<line x1="361.21" y1="327.57" x2="364.76" y2="325.95" stroke="#000" stroke-width="2.6"/>
<line x1="368.13" y1="324.42" x2="371.68" y2="322.80" stroke="#000" stroke-width="2.6"/>
<line x1="375.04" y1="321.27" x2="378.59" y2="319.65" stroke="#000" stroke-width="2.6"/>
<line x1="381.96" y1="318.11" x2="385.51" y2="316.50" stroke="#000" stroke-width="2.6"/>
<line x1="388.87" y1="314.96" x2="392.42" y2="313.34" stroke="#000" stroke-width="2.6"/>
<line x1="401.15" y1="310.25" x2="404.99" y2="309.58" stroke="#000" stroke-width="2.6"/>
<line x1="408.64" y1="308.95" x2="412.48" y2="308.28" stroke="#000" stroke-width="2.6"/>
<line x1="416.13" y1="307.64" x2="419.97" y2="306.97" stroke="#000" stroke-width="2.6"/>
<line x1="423.61" y1="306.34" x2="427.46" y2="305.67" stroke="#000" stroke-width="2.6"/>
<line x1="431.10" y1="305.03" x2="434.94" y2="304.36" stroke="#000" stroke-width="2.6"/>
<line x1="438.59" y1="303.73" x2="442.43" y2="303.06" stroke="#000" stroke-width="2.6"/>
<line x1="446.08" y1="302.43" x2="449.92" y2="301.76" stroke="#000" stroke-width="2.6"/>
<line x1="453.56" y1="301.12" x2="457.41" y2="300.45" stroke="#000" stroke-width="2.6"/>
<line x1="461.05" y1="299.82" x2="464.89" y2="299.15" stroke="#000" stroke-width="2.6"/>
<line x1="468.54" y1="298.51" x2="472.38" y2="297.84" stroke="#000" stroke-width="2.6"/>
<line x1="362.40" y1="369.58" x2="368.10" y2="369.55" stroke="#000" stroke-width="2.3"/>
<line x1="370.20" y1="369.54" x2="375.90" y2="369.51" stroke="#000" stroke-width="2.3"/>
<line x1="378.00" y1="369.50" x2="383.70" y2="369.47" stroke="#000" stroke-width="2.3"/>
<line x1="385.80" y1="369.46" x2="391.50" y2="369.43" stroke="#000" stroke-width="2.3"/>
<line x1="393.60" y1="369.42" x2="395.80" y2="369.41" stroke="#000" stroke-width="2.3"/>
<line x1="401.90" y1="369.40" x2="407.60" y2="369.40" stroke="#000" stroke-width="2.3"/>
<line x1="409.70" y1="369.40" x2="415.40" y2="369.40" stroke="#000" stroke-width="2.3"/>
<line x1="417.50" y1="369.40" x2="423.20" y2="369.40" stroke="#000" stroke-width="2.3"/>
<line x1="425.30" y1="369.40" x2="431.00" y2="369.40" stroke="#000" stroke-width="2.3"/>
<line x1="433.10" y1="369.40" x2="438.80" y2="369.40" stroke="#000" stroke-width="2.3"/>
<line x1="440.90" y1="369.40" x2="446.60" y2="369.40" stroke="#000" stroke-width="2.3"/>
<line x1="448.70" y1="369.40" x2="454.40" y2="369.40" stroke="#000" stroke-width="2.3"/>
<line x1="456.50" y1="369.40" x2="462.20" y2="369.40" stroke="#000" stroke-width="2.3"/>
<line x1="464.30" y1="369.40" x2="470.00" y2="369.40" stroke="#000" stroke-width="2.3"/>
<line x1="472.10" y1="369.40" x2="475.30" y2="369.40" stroke="#000" stroke-width="2.3"/>
<polygon points="358.30,325.70 354.80,331.70 361.80,331.70" fill="none" stroke="#111" stroke-width="1.1" stroke-linejoin="miter"/>
<polygon points="398.00,307.60 394.50,313.60 401.50,313.60" fill="none" stroke="#111" stroke-width="1.1" stroke-linejoin="miter"/>
<polygon points="477.80,293.70 474.30,299.70 481.30,299.70" fill="none" stroke="#111" stroke-width="1.1" stroke-linejoin="miter"/>
<rect x="355.20" y="365.60" width="7.2" height="7.2" fill="none" stroke="#111" stroke-width="1.1"/>
<rect x="394.70" y="365.30" width="7.2" height="7.2" fill="none" stroke="#111" stroke-width="1.1"/>
<rect x="474.20" y="365.10" width="7.2" height="7.2" fill="none" stroke="#111" stroke-width="1.1"/>
<polygon points="358.80,372.80 355.30,366.80 362.30,366.80" fill="#fff" stroke="#111" stroke-width="1.1" stroke-linejoin="miter"/>
<polygon points="398.30,372.60 394.80,366.60 401.80,366.60" fill="#fff" stroke="#111" stroke-width="1.1" stroke-linejoin="miter"/>
<polygon points="477.80,372.60 474.30,366.60 481.30,366.60" fill="#fff" stroke="#111" stroke-width="1.1" stroke-linejoin="miter"/>
<circle cx="358.20" cy="256.90" r="3.7" fill="none" stroke="#111" stroke-width="1.1"/>
<circle cx="396.80" cy="195.30" r="3.7" fill="none" stroke="#111" stroke-width="1.1"/>
<circle cx="477.60" cy="150.80" r="3.7" fill="none" stroke="#111" stroke-width="1.1"/>
<polyline points="93.70,641.40 134.00,623.60 214.00,448.30" fill="none" stroke="#000" stroke-width="2.55" stroke-linejoin="round"/>
<polyline points="93.80,714.60 134.50,714.50 214.60,712.30" fill="none" stroke="#000" stroke-width="2.5" stroke-linejoin="round"/>
<line x1="96.94" y1="701.69" x2="100.63" y2="700.45" stroke="#000" stroke-width="2.6"/>
<line x1="104.14" y1="699.28" x2="107.84" y2="698.04" stroke="#000" stroke-width="2.6"/>
<line x1="111.35" y1="696.87" x2="115.05" y2="695.63" stroke="#000" stroke-width="2.6"/>
<line x1="118.56" y1="694.46" x2="122.26" y2="693.22" stroke="#000" stroke-width="2.6"/>
<line x1="125.77" y1="692.05" x2="129.47" y2="690.81" stroke="#000" stroke-width="2.6"/>
<line x1="136.92" y1="688.00" x2="140.48" y2="686.41" stroke="#000" stroke-width="2.6"/>
<line x1="143.86" y1="684.90" x2="147.42" y2="683.31" stroke="#000" stroke-width="2.6"/>
<line x1="150.80" y1="681.80" x2="154.36" y2="680.21" stroke="#000" stroke-width="2.6"/>
<line x1="157.74" y1="678.70" x2="161.30" y2="677.11" stroke="#000" stroke-width="2.6"/>
<line x1="164.68" y1="675.60" x2="168.24" y2="674.01" stroke="#000" stroke-width="2.6"/>
<line x1="171.62" y1="672.51" x2="175.18" y2="670.92" stroke="#000" stroke-width="2.6"/>
<line x1="178.56" y1="669.41" x2="182.12" y2="667.82" stroke="#000" stroke-width="2.6"/>
<line x1="185.50" y1="666.31" x2="189.06" y2="664.72" stroke="#000" stroke-width="2.6"/>
<line x1="192.44" y1="663.21" x2="196.00" y2="661.62" stroke="#000" stroke-width="2.6"/>
<line x1="199.38" y1="660.11" x2="202.94" y2="658.52" stroke="#000" stroke-width="2.6"/>
<line x1="206.32" y1="657.02" x2="209.88" y2="655.43" stroke="#000" stroke-width="2.6"/>
<line x1="97.40" y1="716.00" x2="103.10" y2="716.00" stroke="#000" stroke-width="2.3"/>
<line x1="105.20" y1="716.00" x2="110.90" y2="716.00" stroke="#000" stroke-width="2.3"/>
<line x1="113.00" y1="716.00" x2="118.70" y2="716.00" stroke="#000" stroke-width="2.3"/>
<line x1="120.80" y1="716.00" x2="126.50" y2="716.00" stroke="#000" stroke-width="2.3"/>
<line x1="128.60" y1="716.00" x2="132.00" y2="716.00" stroke="#000" stroke-width="2.3"/>
<line x1="138.10" y1="715.97" x2="143.80" y2="715.93" stroke="#000" stroke-width="2.3"/>
<line x1="145.90" y1="715.91" x2="151.60" y2="715.87" stroke="#000" stroke-width="2.3"/>
<line x1="153.70" y1="715.86" x2="159.40" y2="715.81" stroke="#000" stroke-width="2.3"/>
<line x1="161.50" y1="715.80" x2="167.20" y2="715.76" stroke="#000" stroke-width="2.3"/>
<line x1="169.30" y1="715.74" x2="175.00" y2="715.70" stroke="#000" stroke-width="2.3"/>
<line x1="177.10" y1="715.68" x2="182.80" y2="715.64" stroke="#000" stroke-width="2.3"/>
<line x1="184.90" y1="715.62" x2="190.60" y2="715.58" stroke="#000" stroke-width="2.3"/>
<line x1="192.70" y1="715.56" x2="198.40" y2="715.52" stroke="#000" stroke-width="2.3"/>
<line x1="200.50" y1="715.51" x2="206.20" y2="715.46" stroke="#000" stroke-width="2.3"/>
<line x1="208.30" y1="715.45" x2="212.10" y2="715.42" stroke="#000" stroke-width="2.3"/>
<polygon points="93.90,699.50 90.40,705.50 97.40,705.50" fill="none" stroke="#111" stroke-width="1.1" stroke-linejoin="miter"/>
<polygon points="134.00,686.10 130.50,692.10 137.50,692.10" fill="none" stroke="#111" stroke-width="1.1" stroke-linejoin="miter"/>
<polygon points="214.20,650.30 210.70,656.30 217.70,656.30" fill="none" stroke="#111" stroke-width="1.1" stroke-linejoin="miter"/>
<rect x="90.20" y="711.00" width="7.2" height="7.2" fill="none" stroke="#111" stroke-width="1.1"/>
<rect x="130.90" y="710.90" width="7.2" height="7.2" fill="none" stroke="#111" stroke-width="1.1"/>
<rect x="211.00" y="708.70" width="7.2" height="7.2" fill="none" stroke="#111" stroke-width="1.1"/>
<polygon points="93.80,719.20 90.30,713.20 97.30,713.20" fill="#fff" stroke="#111" stroke-width="1.1" stroke-linejoin="miter"/>
<polygon points="134.50,719.20 131.00,713.20 138.00,713.20" fill="#fff" stroke="#111" stroke-width="1.1" stroke-linejoin="miter"/>
<polygon points="214.60,718.60 211.10,712.60 218.10,712.60" fill="#fff" stroke="#111" stroke-width="1.1" stroke-linejoin="miter"/>
<circle cx="93.70" cy="641.40" r="3.7" fill="none" stroke="#111" stroke-width="1.1"/>
<circle cx="134.00" cy="623.60" r="3.7" fill="none" stroke="#111" stroke-width="1.1"/>
<circle cx="214.00" cy="448.30" r="3.7" fill="none" stroke="#111" stroke-width="1.1"/>
<polyline points="360.90,685.50 398.80,626.20 477.20,488.90" fill="none" stroke="#000" stroke-width="2.55" stroke-linejoin="round"/>
<polyline points="360.90,712.80 400.20,708.50 479.80,699.00" fill="none" stroke="#000" stroke-width="2.5" stroke-linejoin="round"/>
<line x1="363.86" y1="709.18" x2="367.46" y2="707.69" stroke="#000" stroke-width="2.6"/>
<line x1="370.88" y1="706.28" x2="374.49" y2="704.80" stroke="#000" stroke-width="2.6"/>
<line x1="377.91" y1="703.39" x2="381.52" y2="701.90" stroke="#000" stroke-width="2.6"/>
<line x1="384.94" y1="700.49" x2="388.54" y2="699.00" stroke="#000" stroke-width="2.6"/>
<line x1="391.96" y1="697.59" x2="395.57" y2="696.11" stroke="#000" stroke-width="2.6"/>
<line x1="403.10" y1="692.86" x2="406.64" y2="691.22" stroke="#000" stroke-width="2.6"/>
<line x1="410.00" y1="689.67" x2="413.54" y2="688.03" stroke="#000" stroke-width="2.6"/>
<line x1="416.90" y1="686.47" x2="420.44" y2="684.84" stroke="#000" stroke-width="2.6"/>
<line x1="423.80" y1="683.28" x2="427.34" y2="681.65" stroke="#000" stroke-width="2.6"/>
<line x1="430.69" y1="680.09" x2="434.23" y2="678.46" stroke="#000" stroke-width="2.6"/>
<line x1="437.59" y1="676.90" x2="441.13" y2="675.26" stroke="#000" stroke-width="2.6"/>
<line x1="444.49" y1="673.71" x2="448.03" y2="672.07" stroke="#000" stroke-width="2.6"/>
<line x1="451.39" y1="670.52" x2="454.93" y2="668.88" stroke="#000" stroke-width="2.6"/>
<line x1="458.29" y1="667.33" x2="461.83" y2="665.69" stroke="#000" stroke-width="2.6"/>
<line x1="465.18" y1="664.14" x2="468.72" y2="662.50" stroke="#000" stroke-width="2.6"/>
<line x1="472.08" y1="660.95" x2="475.62" y2="659.31" stroke="#000" stroke-width="2.6"/>
<line x1="364.50" y1="715.45" x2="370.20" y2="715.38" stroke="#000" stroke-width="2.3"/>
<line x1="372.30" y1="715.35" x2="378.00" y2="715.28" stroke="#000" stroke-width="2.3"/>
<line x1="380.10" y1="715.26" x2="385.80" y2="715.18" stroke="#000" stroke-width="2.3"/>
<line x1="387.90" y1="715.16" x2="393.60" y2="715.08" stroke="#000" stroke-width="2.3"/>
<line x1="395.70" y1="715.06" x2="397.70" y2="715.03" stroke="#000" stroke-width="2.3"/>
<line x1="403.80" y1="714.90" x2="409.50" y2="714.74" stroke="#000" stroke-width="2.3"/>
<line x1="411.60" y1="714.69" x2="417.29" y2="714.53" stroke="#000" stroke-width="2.3"/>
<line x1="419.39" y1="714.47" x2="425.09" y2="714.31" stroke="#000" stroke-width="2.3"/>
<line x1="427.19" y1="714.25" x2="432.89" y2="714.10" stroke="#000" stroke-width="2.3"/>
<line x1="434.99" y1="714.04" x2="440.68" y2="713.88" stroke="#000" stroke-width="2.3"/>
<line x1="442.78" y1="713.82" x2="448.48" y2="713.67" stroke="#000" stroke-width="2.3"/>
<line x1="450.58" y1="713.61" x2="456.28" y2="713.45" stroke="#000" stroke-width="2.3"/>
<line x1="458.38" y1="713.39" x2="464.08" y2="713.23" stroke="#000" stroke-width="2.3"/>
<line x1="466.17" y1="713.18" x2="471.87" y2="713.02" stroke="#000" stroke-width="2.3"/>
<line x1="473.97" y1="712.96" x2="477.30" y2="712.87" stroke="#000" stroke-width="2.3"/>
<polygon points="360.90,707.20 357.40,713.20 364.40,713.20" fill="none" stroke="#111" stroke-width="1.1" stroke-linejoin="miter"/>
<polygon points="400.20,691.00 396.70,697.00 403.70,697.00" fill="none" stroke="#111" stroke-width="1.1" stroke-linejoin="miter"/>
<polygon points="479.10,654.50 475.60,660.50 482.60,660.50" fill="none" stroke="#111" stroke-width="1.1" stroke-linejoin="miter"/>
<rect x="357.30" y="709.20" width="7.2" height="7.2" fill="none" stroke="#111" stroke-width="1.1"/>
<rect x="396.60" y="704.90" width="7.2" height="7.2" fill="none" stroke="#111" stroke-width="1.1"/>
<rect x="476.20" y="695.40" width="7.2" height="7.2" fill="none" stroke="#111" stroke-width="1.1"/>
<polygon points="360.90,718.70 357.40,712.70 364.40,712.70" fill="#fff" stroke="#111" stroke-width="1.1" stroke-linejoin="miter"/>
<polygon points="400.20,718.20 396.70,712.20 403.70,712.20" fill="#fff" stroke="#111" stroke-width="1.1" stroke-linejoin="miter"/>
<polygon points="479.80,716.00 476.30,710.00 483.30,710.00" fill="#fff" stroke="#111" stroke-width="1.1" stroke-linejoin="miter"/>
<circle cx="360.90" cy="685.50" r="3.7" fill="none" stroke="#111" stroke-width="1.1"/>
<circle cx="398.80" cy="626.20" r="3.7" fill="none" stroke="#111" stroke-width="1.1"/>
<circle cx="477.20" cy="488.90" r="3.7" fill="none" stroke="#111" stroke-width="1.1"/>
<line x1="132.00" y1="8.10" x2="175.80" y2="8.10" stroke="#000" stroke-width="2.2" />
<circle cx="154.4" cy="8.10" r="4.3" fill="none" stroke="#333" stroke-width="1.0"/>
<line x1="132.00" y1="24.90" x2="175.80" y2="24.90" stroke="#000" stroke-width="2.2" />
<rect x="149.3" y="20.40" width="10" height="9" fill="none" stroke="#444" stroke-width="1.0"/>
<line x1="132.50" y1="42.90" x2="136.50" y2="42.90" stroke="#000" stroke-width="2.4" />
<line x1="141.70" y1="42.90" x2="146.30" y2="42.90" stroke="#000" stroke-width="2.4" />
<line x1="161.00" y1="42.90" x2="165.60" y2="42.90" stroke="#000" stroke-width="2.4" />
<line x1="170.60" y1="42.90" x2="175.80" y2="42.90" stroke="#000" stroke-width="2.4" />
<polygon points="154.90,40.10 150.80,46.10 159.00,46.10" fill="#fff" stroke="#111" stroke-width="1.2" stroke-linejoin="miter"/>
<line x1="134.00" y1="59.80" x2="139.80" y2="59.80" stroke="#000" stroke-width="2.4" />
<line x1="143.20" y1="59.80" x2="149.80" y2="59.80" stroke="#000" stroke-width="2.4" />
<line x1="161.70" y1="59.80" x2="168.80" y2="59.80" stroke="#000" stroke-width="2.4" />
<line x1="171.70" y1="59.80" x2="177.80" y2="59.80" stroke="#000" stroke-width="2.4" />
<polygon points="155.70,62.70 151.40,56.70 160.00,56.70" fill="#fff" stroke="#111" stroke-width="1.2" stroke-linejoin="miter"/>
<text x="186.00" y="14.80" font-family='"Liberation Serif", serif' font-weight="bold" font-size="13.5" textLength="25.90" lengthAdjust="spacingAndGlyphs" >H-2</text>
<text x="211.60" y="11.00" font-family='"Liberation Serif", serif' font-weight="normal" style="stroke:#111;stroke-width:0.4px" font-size="12.6" textLength="7.90" lengthAdjust="spacingAndGlyphs">b</text>
<text x="229.00" y="14.80" font-family='"Liberation Serif", serif' font-weight="bold" font-size="13.5" textLength="25.20" lengthAdjust="spacingAndGlyphs" >H-Y</text>
<text x="263.10" y="14.80" font-family='"Liberation Serif", serif' font-weight="bold" font-size="13.5" textLength="46.70" lengthAdjust="spacingAndGlyphs" >anti-B6</text>
<text x="316.50" y="14.80" font-family='"Liberation Serif", serif' font-weight="bold" font-size="13.5" textLength="29.60" lengthAdjust="spacingAndGlyphs" >male</text>
<text x="186.00" y="31.00" font-family='"Liberation Serif", serif' font-weight="bold" font-size="13.5" textLength="25.90" lengthAdjust="spacingAndGlyphs" >H-2</text>
<text x="211.60" y="27.20" font-family='"Liberation Serif", serif' font-weight="normal" style="stroke:#111;stroke-width:0.4px" font-size="12.6" textLength="7.90" lengthAdjust="spacingAndGlyphs">b</text>
<text x="229.20" y="31.00" font-family='"Liberation Serif", serif' font-weight="bold" font-size="13.5" textLength="25.20" lengthAdjust="spacingAndGlyphs" >H-Y</text>
<text x="263.50" y="31.00" font-family='"Liberation Serif", serif' font-weight="bold" font-size="13.5" textLength="46.80" lengthAdjust="spacingAndGlyphs" >anti-B6</text>
<text x="316.90" y="31.00" font-family='"Liberation Serif", serif' font-weight="bold" font-size="13.5" textLength="42.70" lengthAdjust="spacingAndGlyphs" >female</text>
<text x="186.00" y="47.70" font-family='"Liberation Serif", serif' font-weight="bold" font-size="13.5" textLength="25.90" lengthAdjust="spacingAndGlyphs" >H-2</text>
<text x="211.60" y="43.90" font-family='"Liberation Serif", serif' font-weight="normal" style="stroke:#111;stroke-width:0.4px" font-size="12.6" textLength="7.90" lengthAdjust="spacingAndGlyphs">b</text>
<text x="229.50" y="47.70" font-family='"Liberation Serif", serif' font-weight="bold" font-size="13.5" textLength="61.90" lengthAdjust="spacingAndGlyphs" >H-Y/CD2</text>
<text x="291.40" y="42.60" font-family='"Liberation Serif", serif' font-weight="normal" style="stroke:#111;stroke-width:0.45px" font-size="10" textLength="6.50" lengthAdjust="spacingAndGlyphs">o</text>
<text x="305.90" y="47.70" font-family='"Liberation Serif", serif' font-weight="bold" font-size="13.5" textLength="46.50" lengthAdjust="spacingAndGlyphs" >anti-B6</text>
<text x="359.70" y="47.70" font-family='"Liberation Serif", serif' font-weight="bold" font-size="13.5" textLength="29.30" lengthAdjust="spacingAndGlyphs" >male</text>
<text x="186.00" y="64.60" font-family='"Liberation Serif", serif' font-weight="bold" font-size="13.5" textLength="25.90" lengthAdjust="spacingAndGlyphs" >H-2</text>
<text x="211.60" y="60.80" font-family='"Liberation Serif", serif' font-weight="normal" style="stroke:#111;stroke-width:0.4px" font-size="12.6" textLength="7.90" lengthAdjust="spacingAndGlyphs">b</text>
<text x="229.50" y="64.60" font-family='"Liberation Serif", serif' font-weight="bold" font-size="13.5" textLength="61.90" lengthAdjust="spacingAndGlyphs" >H-Y/CD2</text>
<text x="291.40" y="59.50" font-family='"Liberation Serif", serif' font-weight="normal" style="stroke:#111;stroke-width:0.45px" font-size="10" textLength="6.50" lengthAdjust="spacingAndGlyphs">o</text>
<text x="306.80" y="64.60" font-family='"Liberation Serif", serif' font-weight="bold" font-size="13.5" textLength="46.30" lengthAdjust="spacingAndGlyphs" >anti-B6</text>
<text x="360.90" y="64.60" font-family='"Liberation Serif", serif' font-weight="bold" font-size="13.5" textLength="41.20" lengthAdjust="spacingAndGlyphs" >female</text>
</svg>
</body></html>
